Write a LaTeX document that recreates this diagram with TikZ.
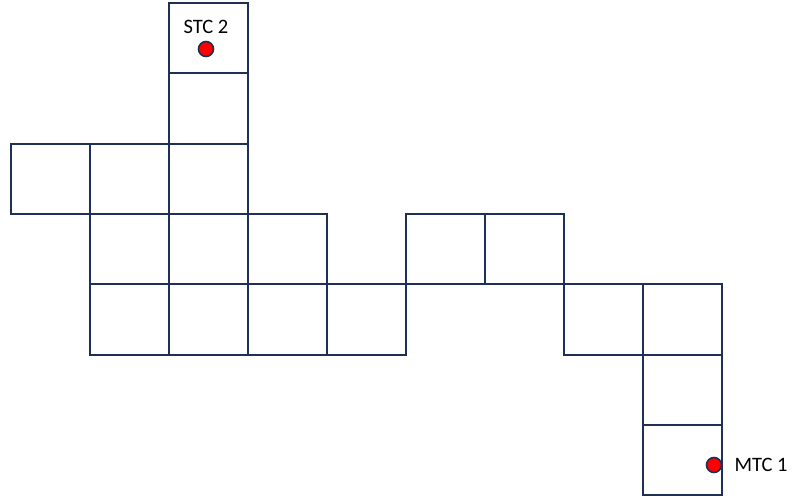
\documentclass[tikz,border=0pt]{standalone}
\usepackage{fontspec}
\setmainfont{Carlito}
\usetikzlibrary{positioning}
\definecolor{gridnavy}{HTML}{1F3057}
\begin{document}
\begin{tikzpicture}[
        x=1pt, y=-1pt,
        % Styles
        cell/.style={rectangle, draw=gridnavy, line width=2pt, minimum width=79pt, minimum height=70.3pt, inner sep=0pt, anchor=north west},
        tc/.style={circle, draw=gridnavy, line width=1.6pt, fill=red, minimum size=15pt, inner sep=0pt},
        tclabel/.style={font=\fontsize{20.5}{23}\selectfont, inner sep=0pt}
    ]
    \useasboundingbox (0,0) rectangle (797,497);

    % --- Cells (column, row) ---
    \foreach \c/\r in {2/0, 2/1, 0/2, 1/2, 2/2, 1/3, 2/3, 3/3, 5/3, 6/3,
                       1/4, 2/4, 3/4, 4/4, 7/4, 8/4, 8/5, 8/6}
        \node[cell] (cell-\c-\r) at ({10+79*\c}, {2+70.3*\r}) {};

    % --- Terminals ---
    \node[tc] (stc2) at (206,49) {};
    \node[tclabel, above=7pt of stc2] (stc2label) {STC 2};
    \node[tc] (mtc1) at (714,465) {};
    \node[tclabel, right=12pt of mtc1] (mtc1label) {MTC 1};
\end{tikzpicture}
\end{document}
